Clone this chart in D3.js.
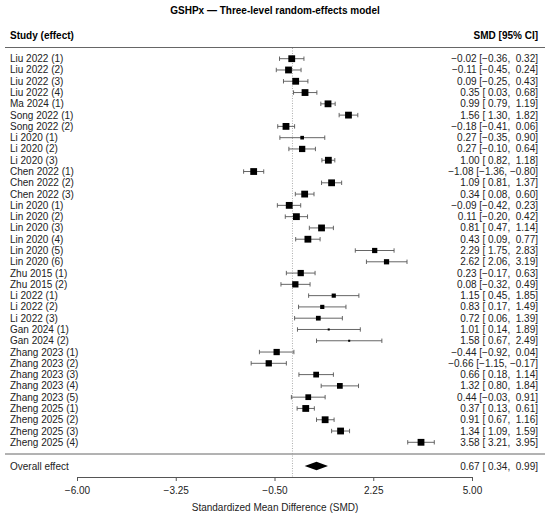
<!DOCTYPE html>
<html lang="en">
  <head>
    <meta charset="UTF-8" />
    <title>GSHPx forest plot</title>
    <script src="https://d3js.org/d3.v7.min.js"></script>
    <style>
      body {
        margin: 0;
        background: #fff;
      }
      svg text {
        font-family: 'Liberation Sans', Arial, sans-serif;
        white-space: pre;
      }
      .axis path,
      .axis line {
        stroke: #555;
      }
      .axis text {
        font-size: 10px;
        fill: #222;
      }
    </style>
  </head>
  <body>
    <div id="chart"></div>

    <script>
      // study rows, top to bottom
      const studies = [
        'Liu 2022 (1)', 'Liu 2022 (2)', 'Liu 2022 (3)', 'Liu 2022 (4)',
        'Ma 2024 (1)', 'Song 2022 (1)', 'Song 2022 (2)',
        'Li 2020 (1)', 'Li 2020 (2)', 'Li 2020 (3)',
        'Chen 2022 (1)', 'Chen 2022 (2)', 'Chen 2022 (3)',
        'Lin 2020 (1)', 'Lin 2020 (2)', 'Lin 2020 (3)',
        'Lin 2020 (4)', 'Lin 2020 (5)', 'Lin 2020 (6)',
        'Zhu 2015 (1)', 'Zhu 2015 (2)',
        'Li 2022 (1)', 'Li 2022 (2)', 'Li 2022 (3)',
        'Gan 2024 (1)', 'Gan 2024 (2)',
        'Zhang 2023 (1)', 'Zhang 2023 (2)', 'Zhang 2023 (3)',
        'Zhang 2023 (4)', 'Zhang 2023 (5)',
        'Zheng 2025 (1)', 'Zheng 2025 (2)', 'Zheng 2025 (3)', 'Zheng 2025 (4)',
      ];
      const smd = [
        -0.02, -0.11, 0.09, 0.35, 0.99, 1.56, -0.18, 0.27, 0.27, 1.0,
        -1.08, 1.09, 0.34, -0.09, 0.11, 0.81, 0.43, 2.29, 2.62, 0.23,
        0.08, 1.15, 0.83, 0.72, 1.01, 1.58, -0.44, -0.66, 0.66, 1.32,
        0.44, 0.37, 0.91, 1.34, 3.58,
      ];
      const ciLow = [
        -0.36, -0.45, -0.25, 0.03, 0.79, 1.3, -0.41, -0.35, -0.1, 0.82,
        -1.36, 0.81, 0.08, -0.42, -0.2, 0.47, 0.09, 1.75, 2.06, -0.17,
        -0.32, 0.45, 0.17, 0.06, 0.14, 0.67, -0.92, -1.15, 0.18, 0.8,
        -0.03, 0.13, 0.67, 1.09, 3.21,
      ];
      const ciHigh = [
        0.32, 0.24, 0.43, 0.68, 1.19, 1.82, 0.06, 0.9, 0.64, 1.18,
        -0.8, 1.37, 0.6, 0.23, 0.42, 1.14, 0.77, 2.83, 3.19, 0.63,
        0.49, 1.85, 1.49, 1.39, 1.89, 2.49, 0.04, -0.17, 1.14, 1.84,
        0.91, 0.61, 1.16, 1.59, 3.95,
      ];
      // relative weights (%)
      const weights = [
        3.3, 3.3, 3.3, 3.3, 3.3, 3.3, 3.3, 0.95, 2.8, 3.3,
        3.3, 3.3, 3.3, 3.3, 3.3, 3.3, 3.3, 1.95, 1.95, 2.8,
        2.8, 1.25, 1.25, 1.6, 0.3, 0.3, 2.8, 2.8, 2.35, 2.35,
        2.35, 3.3, 3.3, 3.3, 3.3,
      ];
      const overall = { smd: 0.67, lo: 0.34, hi: 0.99 };
      const xTicks = [-6, -3.25, -0.5, 2.25, 5];

      const W = 550;
      const H = 517;

      const svg = d3
        .select('#chart')
        .append('svg')
        .attr('width', W)
        .attr('height', H);

      const x = d3.scaleLinear().domain([-6, 5]).range([77, 472]);
      const y = d3
        .scalePoint()
        .domain(studies)
        .range([58.7, 442.3]);
      const side = d3.scaleSqrt().domain([0, 3.3]).range([0, 6.8]);

      const fmt = d3.format('.2f');
      const num = (v) => (v < 0 ? '\u2212' : ' ') + fmt(Math.abs(v));
      const label = (m, lo, hi) =>
        (m < 0 ? '\u2212' : '') + fmt(Math.abs(m)) + ' [' + num(lo) + ', ' + num(hi) + ']';

      const rows = studies.map((s, i) => ({
        name: s,
        m: smd[i],
        lo: ciLow[i],
        hi: ciHigh[i],
        w: weights[i],
      }));

      // title
      svg
        .append('text')
        .attr('x', W / 2)
        .attr('y', 14)
        .attr('text-anchor', 'middle')
        .style('font-size', '10px')
        .style('font-weight', 'bold')
        .text('GSHPx \u2014 Three-level random-effects model');

      // column headers
      svg
        .append('text')
        .attr('x', 10)
        .attr('y', 39)
        .style('font-size', '10px')
        .style('font-weight', 'bold')
        .text('Study (effect)');
      svg
        .append('text')
        .attr('x', 538)
        .attr('y', 39)
        .attr('text-anchor', 'end')
        .style('font-size', '10px')
        .style('font-weight', 'bold')
        .text('SMD [95% CI]');

      // separators
      [47.5, 454].forEach((yy) => {
        svg
          .append('line')
          .attr('x1', 5)
          .attr('x2', 545)
          .attr('y1', yy)
          .attr('y2', yy)
          .attr('stroke', '#666')
          .attr('stroke-width', 1);
      });

      // null line
      svg
        .append('line')
        .attr('x1', x(0))
        .attr('x2', x(0))
        .attr('y1', 48)
        .attr('y2', 477)
        .attr('stroke', '#999')
        .attr('stroke-width', 0.8)
        .attr('stroke-dasharray', '1,1.5');

      const g = svg
        .selectAll('g.row')
        .data(rows)
        .enter()
        .append('g')
        .attr('class', 'row')
        .attr('transform', (d) => `translate(0,${y(d.name)})`);

      g.append('text')
        .attr('x', 10)
        .attr('dy', '0.35em')
        .style('font-size', '10px')
        .attr('fill', '#222')
        .text((d) => d.name);

      g.append('text')
        .attr('x', 538)
        .attr('dy', '0.35em')
        .attr('text-anchor', 'end')
        .style('font-size', '10px')
        .attr('fill', '#222')
        .text((d) => label(d.m, d.lo, d.hi));

      // CI whiskers
      g.append('line')
        .attr('x1', (d) => x(d.lo))
        .attr('x2', (d) => x(d.hi))
        .attr('stroke', '#555')
        .attr('stroke-width', 0.9);
      ['lo', 'hi'].forEach((k) => {
        g.append('line')
          .attr('x1', (d) => x(d[k]))
          .attr('x2', (d) => x(d[k]))
          .attr('y1', -2.2)
          .attr('y2', 2.2)
          .attr('stroke', '#555')
          .attr('stroke-width', 0.9);
      });

      g.append('rect')
        .attr('x', (d) => x(d.m) - side(d.w) / 2)
        .attr('y', (d) => -side(d.w) / 2)
        .attr('width', (d) => side(d.w))
        .attr('height', (d) => side(d.w))
        .attr('fill', '#000');

      // overall effect
      const yo = 466;
      svg
        .append('text')
        .attr('x', 10)
        .attr('y', yo)
        .attr('dy', '0.35em')
        .style('font-size', '10px')
        .attr('fill', '#222')
        .text('Overall effect');
      svg
        .append('path')
        .attr(
          'd',
          `M${x(overall.lo)},${yo} L${x(overall.smd)},${yo - 4.3} L${x(overall.hi)},${yo} L${x(overall.smd)},${yo + 4.3} Z`,
        )
        .attr('fill', '#000');
      svg
        .append('text')
        .attr('x', 538)
        .attr('y', yo)
        .attr('dy', '0.35em')
        .attr('text-anchor', 'end')
        .style('font-size', '10px')
        .attr('fill', '#222')
        .text(label(overall.smd, overall.lo, overall.hi));

      // x axis
      svg
        .append('g')
        .attr('class', 'axis')
        .attr('transform', 'translate(0,477)')
        .call(
          d3
            .axisBottom(x)
            .tickValues(xTicks)
            .tickFormat(d3.format('.2f'))
            .tickSize(4)
            .tickSizeOuter(0)
            .tickPadding(6),
        );

      svg
        .append('text')
        .attr('x', W / 2)
        .attr('y', 511)
        .attr('text-anchor', 'middle')
        .style('font-size', '10px')
        .attr('fill', '#222')
        .text('Standardized Mean Difference (SMD)');
    </script>
  </body>
</html>
